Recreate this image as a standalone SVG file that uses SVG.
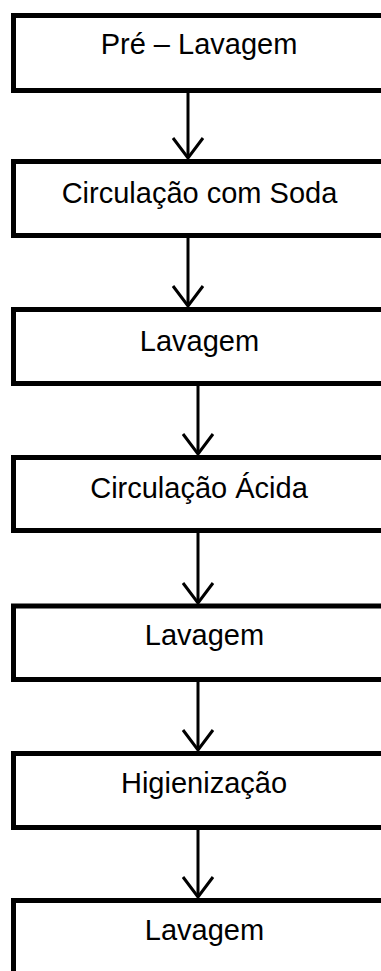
<svg xmlns="http://www.w3.org/2000/svg" width="381" height="971" viewBox="0 0 381 971">
  <style>
    .box { fill: #ffffff; stroke: #000000; stroke-width: 5; }
    .lbl { font-family: "Liberation Sans", Arial, sans-serif; font-size: 29px; fill: #000000; text-anchor: middle; }
    .link { fill: none; stroke: #000000; stroke-width: 3; }
  </style>
  <defs>
    <marker id="chevron" markerUnits="userSpaceOnUse" markerWidth="30" markerHeight="40" viewBox="-24 -20 28 40" refX="0" refY="0" orient="auto" overflow="visible">
      <path d="M-20,-15 L0,0 L-20,15" fill="none" stroke="#000000" stroke-width="3"/>
    </marker>
  </defs>
  <rect width="381" height="971" fill="#ffffff"/>

  <g id="step1">
    <rect class="box" x="13.5" y="15.5" width="380" height="75"/>
    <text class="lbl" x="199" y="54">Pré – Lavagem</text>
  </g>
  <g id="step2">
    <rect class="box" x="13.5" y="161.5" width="380" height="74"/>
    <text class="lbl" x="199.5" y="203">Circulação com Soda</text>
  </g>
  <g id="step3">
    <rect class="box" x="13.5" y="309.5" width="380" height="74"/>
    <text class="lbl" x="199.5" y="351">Lavagem</text>
  </g>
  <g id="step4">
    <rect class="box" x="13.5" y="457.5" width="380" height="73"/>
    <text class="lbl" x="199" y="498">Circulação Ácida</text>
  </g>
  <g id="step5">
    <rect class="box" x="13.5" y="606" width="380" height="73.5"/>
    <text class="lbl" x="204.5" y="645">Lavagem</text>
  </g>
  <g id="step6">
    <rect class="box" x="13.5" y="753.5" width="380" height="74"/>
    <text class="lbl" x="204" y="793">Higienização</text>
  </g>
  <g id="step7">
    <rect class="box" x="13.5" y="900.5" width="380" height="90"/>
    <text class="lbl" x="204.5" y="940">Lavagem</text>
  </g>

  <g id="connectors">
    <line class="link" x1="188" y1="93" x2="188" y2="158" marker-end="url(#chevron)"/>
    <line class="link" x1="188" y1="238" x2="188" y2="306" marker-end="url(#chevron)"/>
    <line class="link" x1="198" y1="386" x2="198" y2="454" marker-end="url(#chevron)"/>
    <line class="link" x1="198" y1="533" x2="198" y2="603" marker-end="url(#chevron)"/>
    <line class="link" x1="198" y1="682" x2="198" y2="750" marker-end="url(#chevron)"/>
    <line class="link" x1="198" y1="830" x2="198" y2="897" marker-end="url(#chevron)"/>
  </g>
</svg>
